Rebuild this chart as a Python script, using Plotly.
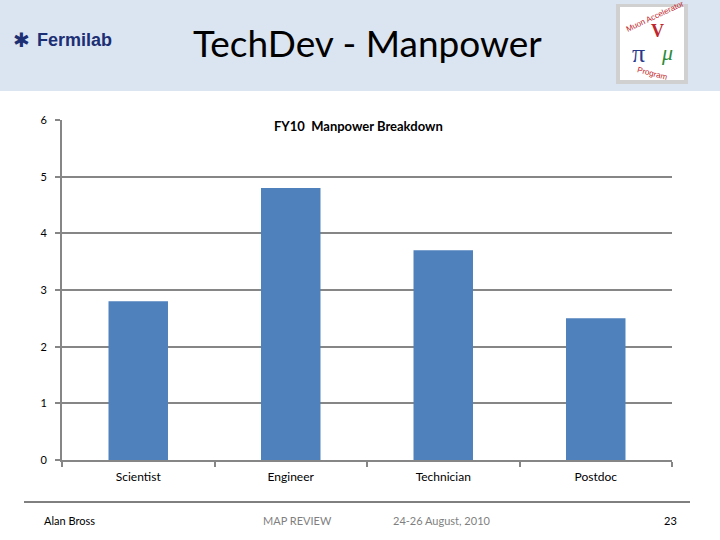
import plotly.graph_objects as go

categories = ["Scientist", "Engineer", "Technician", "Postdoc"]
fte = [2.8, 4.8, 3.7, 2.5]
y_ticks = [0, 1, 2, 3, 4, 5, 6]

W, H = 720, 540
L, R, T, B = 62, 48, 120, 80
PW, PH = W - L - R, H - T - B

def px(x):
    return (x - L) / PW

def py(y):
    return (H - B - y) / PH

FONT = "Lato"
fig = go.Figure(go.Bar(x=categories, y=fte, marker=dict(color="#4f81bd", line=dict(width=0)),
                       width=0.39, hoverinfo="skip"))

shapes = [
    dict(type="rect", xref="paper", yref="paper", x0=px(0), x1=px(720), y0=py(0), y1=py(91),
         fillcolor="#dbe5f1", line=dict(width=0), layer="below"),
    dict(type="rect", xref="paper", yref="paper", x0=px(616), x1=px(688), y0=py(4), y1=py(84),
         fillcolor="#d0d0d0", line=dict(width=0)),
    dict(type="rect", xref="paper", yref="paper", x0=px(620), x1=px(684), y0=py(7), y1=py(80),
         fillcolor="white", line=dict(width=0)),
    dict(type="line", xref="paper", yref="paper", x0=px(24), x1=px(690), y0=py(502), y1=py(502),
         line=dict(color="black", width=1)),
]

def ann(text, x, y, size, color="black", family=FONT, xanchor="center", **kw):
    return dict(text=text, x=px(x), y=py(y), xref="paper", yref="paper", showarrow=False,
                xanchor=xanchor, yanchor="middle", font=dict(size=size, color=color, family=family),
                borderpad=0, **kw)

annotations = [
    ann("TechDev - Manpower", 367, 43, 37),
    ann("<b>Fermilab</b>", 36, 40, 18, color="#1c2f74", family="Liberation Sans", xanchor="left"),
    ann("<b>✱</b>", 21, 40, 20, color="#1c2f74", family="DejaVu Sans"),
    ann("Muon Accelerator", 655, 17, 8, color="#c0272d", family="Liberation Sans", textangle=-25),
    ann("<b>V</b>", 657, 31, 18, color="#c0272d", family="Liberation Serif"),
    ann("π", 638, 53, 26, color="#283a8c", family="Liberation Serif"),
    ann("<i>μ</i>", 667, 52, 22, color="#2e8b3a", family="Liberation Serif"),
    ann("Program", 652, 73, 8, color="#c0272d", family="Liberation Sans", textangle=15),
    ann("<b>FY10  Manpower Breakdown</b>", 358, 126, 13),
    ann("Alan Bross", 43, 520, 11, xanchor="left"),
    ann("MAP REVIEW", 297, 520, 11, color="#7f7f7f"),
    ann("24-26 August, 2010", 442, 520, 11, color="#7f7f7f"),
    ann("23", 670, 520, 11),
]

fig.update_layout(
    width=W, height=H, margin=dict(l=L, r=R, t=T, b=B),
    paper_bgcolor="white", plot_bgcolor="white", showlegend=False,
    shapes=shapes, annotations=annotations,
    font=dict(family=FONT, size=12, color="black"),
    xaxis=dict(tickson="boundaries", ticks="outside", ticklen=5, tickcolor="#868686", tickwidth=2,
               showline=True, linecolor="#868686", linewidth=2, showgrid=False,
               tickfont=dict(size=12, family=FONT), ticklabelstandoff=5),
    yaxis=dict(range=[0, 6], tickvals=y_ticks, ticks="outside", ticklen=5, tickcolor="#868686",
               tickwidth=2, showline=True, linecolor="#868686", linewidth=2,
               showgrid=True, gridcolor="#868686", gridwidth=2, zeroline=False,
               tickfont=dict(size=11, family=FONT), ticklabelstandoff=6),
)

fig.write_html("out.html", config={"displayModeBar": False},
               post_script="document.body.style.margin='0';document.body.style.overflow='hidden';")
